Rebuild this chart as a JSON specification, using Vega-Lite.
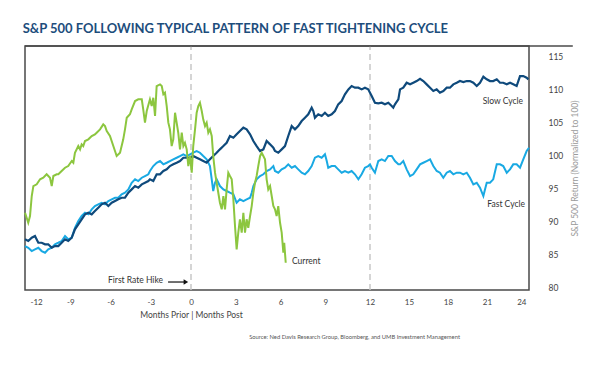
{
  "$schema": "https://vega.github.io/schema/vega-lite/v6.json",
  "width": 504,
  "height": 244,
  "autosize": "none",
  "padding": {"left": 25, "top": 46, "right": 71, "bottom": 77},
  "background": "white",
  "config": {
    "view": {"stroke": "#4a4a4a", "strokeWidth": 1.5},
    "font": "Lato",
    "axisY": {"labelOverlap": false, "tickCount": 8}
  },
  "title": {
    "text": "S&P 500 FOLLOWING TYPICAL PATTERN OF FAST TIGHTENING CYCLE",
    "anchor": "start",
    "font": "Lato",
    "fontSize": 13,
    "fontWeight": "bold",
    "color": "#1d4d7c",
    "offset": 9,
    "dx": 2
  },
  "datasets": {
    "slow": [
      {"m":-12.37,"v":87.23},{"m":-12.13,"v":86.97},{"m":-11.87,"v":87.47},{"m":-11.63,"v":87.73},{"m":-11.38,"v":86.71},{"m":-11.13,"v":86.71},{"m":-10.88,"v":86.47},{"m":-10.64,"v":86.47},{"m":-10.38,"v":85.95},{"m":-10.14,"v":86.21},{"m":-9.89,"v":86.21},{"m":-9.64,"v":86.71},{"m":-9.39,"v":87.23},{"m":-9.15,"v":86.97},{"m":-8.89,"v":87.47},{"m":-8.65,"v":88.74},{"m":-8.40,"v":89.5},{"m":-8.15,"v":90.26},{"m":-7.90,"v":91.02},{"m":-7.65,"v":91.26},{"m":-7.40,"v":91.02},{"m":-7.16,"v":91.52},{"m":-6.91,"v":92.02},{"m":-6.66,"v":92.53},{"m":-6.41,"v":92.77},{"m":-6.16,"v":92.27},{"m":-5.91,"v":92.77},{"m":-5.66,"v":93.03},{"m":-5.42,"v":93.29},{"m":-5.17,"v":93.53},{"m":-4.92,"v":93.53},{"m":-4.67,"v":94.29},{"m":-4.42,"v":94.8},{"m":-4.17,"v":95.3},{"m":-3.93,"v":95.05},{"m":-3.67,"v":95.56},{"m":-3.43,"v":95.8},{"m":-3.18,"v":96.06},{"m":-3.06,"v":96.32},{"m":-2.81,"v":96.06},{"m":-2.56,"v":97.08},{"m":-2.31,"v":97.08},{"m":-2.06,"v":97.58},{"m":-1.81,"v":97.83},{"m":-1.57,"v":98.33},{"m":-1.32,"v":98.59},{"m":-1.07,"v":98.83},{"m":-0.82,"v":99.09},{"m":-0.57,"v":99.59},{"m":-0.32,"v":99.59},{"m":-0.07,"v":99.59},{"m":0.15,"v":99.85},{"m":0.38,"v":99.59},{"m":0.60,"v":99.35},{"m":0.82,"v":99.09},{"m":1.05,"v":98.83},{"m":1.27,"v":99.35},{"m":1.49,"v":99.85},{"m":1.72,"v":100.35},{"m":1.94,"v":100.86},{"m":2.17,"v":101.36},{"m":2.39,"v":101.86},{"m":2.61,"v":102.88},{"m":2.84,"v":102.62},{"m":3.06,"v":103.14},{"m":3.28,"v":103.64},{"m":3.51,"v":104.14},{"m":3.73,"v":103.89},{"m":3.96,"v":103.14},{"m":4.18,"v":102.12},{"m":4.40,"v":101.36},{"m":4.63,"v":100.61},{"m":4.85,"v":100.86},{"m":5.07,"v":102.12},{"m":5.30,"v":101.62},{"m":5.52,"v":101.11},{"m":5.63,"v":100.61},{"m":5.85,"v":100.35},{"m":6.08,"v":100.86},{"m":6.30,"v":101.36},{"m":6.52,"v":102.88},{"m":6.75,"v":104.39},{"m":6.97,"v":103.89},{"m":7.19,"v":104.39},{"m":7.42,"v":105.15},{"m":7.64,"v":105.65},{"m":7.86,"v":106.17},{"m":8.09,"v":107.17},{"m":8.20,"v":106.67},{"m":8.31,"v":105.65},{"m":8.53,"v":106.17},{"m":8.76,"v":105.91},{"m":8.98,"v":106.41},{"m":9.20,"v":105.91},{"m":9.43,"v":106.17},{"m":9.65,"v":106.67},{"m":9.87,"v":107.68},{"m":10.10,"v":108.18},{"m":10.32,"v":109.2},{"m":10.55,"v":109.95},{"m":10.77,"v":110.45},{"m":10.99,"v":110.2},{"m":11.22,"v":110.2},{"m":11.44,"v":109.95},{"m":11.66,"v":110.2},{"m":11.88,"v":109.95},{"m":12.13,"v":108.94},{"m":12.38,"v":107.92},{"m":12.64,"v":107.83},{"m":12.90,"v":107.92},{"m":13.15,"v":107.68},{"m":13.41,"v":107.92},{"m":13.67,"v":107.42},{"m":13.79,"v":107.17},{"m":13.92,"v":107.68},{"m":14.18,"v":108.44},{"m":14.31,"v":109.95},{"m":14.56,"v":110.2},{"m":14.82,"v":110.95},{"m":15.08,"v":110.71},{"m":15.33,"v":110.95},{"m":15.59,"v":111.21},{"m":15.85,"v":111.56},{"m":16.10,"v":111.21},{"m":16.36,"v":110.71},{"m":16.62,"v":110.2},{"m":16.87,"v":109.7},{"m":17.13,"v":109.95},{"m":17.38,"v":109.44},{"m":17.64,"v":109.7},{"m":17.90,"v":110.2},{"m":18.15,"v":110.2},{"m":18.41,"v":110.71},{"m":18.67,"v":110.95},{"m":18.92,"v":111.21},{"m":19.18,"v":111.06},{"m":19.44,"v":111.21},{"m":19.69,"v":111.21},{"m":19.95,"v":110.95},{"m":20.21,"v":110.45},{"m":20.46,"v":110.95},{"m":20.72,"v":111.86},{"m":20.98,"v":111.47},{"m":21.23,"v":111.21},{"m":21.48,"v":111.21},{"m":21.75,"v":111.47},{"m":22.00,"v":110.95},{"m":22.25,"v":110.95},{"m":22.52,"v":110.71},{"m":22.77,"v":110.95},{"m":23.02,"v":110.71},{"m":23.28,"v":110.45},{"m":23.54,"v":111.97},{"m":23.79,"v":111.97},{"m":24.05,"v":111.71},{"m":24.18,"v":111.47}
    ],
    "fast": [
      {"m":-12.37,"v":86.21},{"m":-12.13,"v":85.95},{"m":-11.87,"v":85.45},{"m":-11.63,"v":85.71},{"m":-11.38,"v":85.95},{"m":-11.13,"v":85.45},{"m":-10.88,"v":85.2},{"m":-10.64,"v":85.71},{"m":-10.38,"v":85.95},{"m":-10.14,"v":86.47},{"m":-9.89,"v":86.71},{"m":-9.64,"v":86.97},{"m":-9.39,"v":87.73},{"m":-9.15,"v":87.23},{"m":-8.89,"v":87.47},{"m":-8.65,"v":88.98},{"m":-8.40,"v":90.0},{"m":-8.15,"v":90.76},{"m":-7.90,"v":91.26},{"m":-7.65,"v":91.02},{"m":-7.40,"v":91.77},{"m":-7.16,"v":92.27},{"m":-6.91,"v":92.53},{"m":-6.66,"v":92.77},{"m":-6.41,"v":92.53},{"m":-6.16,"v":93.03},{"m":-5.91,"v":93.29},{"m":-5.66,"v":93.53},{"m":-5.42,"v":93.53},{"m":-5.17,"v":94.05},{"m":-4.92,"v":94.29},{"m":-4.67,"v":94.8},{"m":-4.42,"v":95.8},{"m":-4.17,"v":96.32},{"m":-3.93,"v":96.06},{"m":-3.67,"v":96.56},{"m":-3.43,"v":96.82},{"m":-3.18,"v":97.08},{"m":-3.06,"v":97.58},{"m":-2.81,"v":98.33},{"m":-2.56,"v":98.83},{"m":-2.31,"v":99.09},{"m":-2.06,"v":98.59},{"m":-1.81,"v":98.83},{"m":-1.57,"v":99.09},{"m":-1.32,"v":99.35},{"m":-1.07,"v":99.59},{"m":-0.82,"v":99.85},{"m":-0.57,"v":100.11},{"m":-0.32,"v":99.85},{"m":-0.07,"v":100.11},{"m":0.15,"v":100.35},{"m":0.38,"v":100.61},{"m":0.60,"v":100.35},{"m":0.82,"v":99.85},{"m":1.05,"v":99.35},{"m":1.27,"v":98.33},{"m":1.39,"v":96.32},{"m":1.49,"v":94.55},{"m":1.61,"v":95.8},{"m":1.72,"v":96.32},{"m":1.94,"v":95.3},{"m":2.17,"v":94.8},{"m":2.39,"v":94.55},{"m":2.61,"v":94.29},{"m":2.84,"v":94.05},{"m":3.06,"v":92.77},{"m":3.28,"v":93.29},{"m":3.51,"v":93.03},{"m":3.73,"v":93.29},{"m":3.96,"v":93.53},{"m":4.07,"v":94.29},{"m":4.18,"v":95.3},{"m":4.40,"v":96.32},{"m":4.63,"v":96.82},{"m":4.85,"v":97.08},{"m":5.07,"v":97.58},{"m":5.30,"v":97.83},{"m":5.52,"v":98.33},{"m":5.63,"v":97.58},{"m":5.85,"v":97.32},{"m":6.08,"v":97.83},{"m":6.30,"v":98.08},{"m":6.52,"v":98.59},{"m":6.75,"v":98.08},{"m":6.97,"v":98.33},{"m":7.19,"v":97.83},{"m":7.42,"v":97.32},{"m":7.64,"v":97.08},{"m":7.86,"v":97.58},{"m":8.09,"v":98.33},{"m":8.31,"v":99.59},{"m":8.53,"v":99.85},{"m":8.76,"v":99.59},{"m":8.98,"v":100.11},{"m":9.10,"v":99.09},{"m":9.20,"v":98.08},{"m":9.43,"v":98.33},{"m":9.65,"v":98.33},{"m":9.87,"v":97.83},{"m":10.10,"v":97.32},{"m":10.32,"v":97.58},{"m":10.55,"v":97.32},{"m":10.77,"v":97.58},{"m":10.99,"v":97.08},{"m":11.22,"v":96.32},{"m":11.44,"v":97.08},{"m":11.66,"v":98.08},{"m":11.88,"v":98.33},{"m":12.00,"v":98.59},{"m":12.13,"v":98.08},{"m":12.38,"v":97.32},{"m":12.64,"v":99.09},{"m":12.90,"v":99.35},{"m":13.15,"v":99.09},{"m":13.41,"v":99.85},{"m":13.67,"v":99.85},{"m":13.92,"v":99.09},{"m":14.18,"v":98.59},{"m":14.31,"v":98.59},{"m":14.56,"v":99.09},{"m":14.82,"v":97.83},{"m":15.08,"v":96.82},{"m":15.33,"v":97.08},{"m":15.59,"v":97.83},{"m":15.85,"v":98.59},{"m":16.10,"v":98.83},{"m":16.36,"v":99.09},{"m":16.62,"v":99.35},{"m":16.87,"v":98.33},{"m":17.13,"v":97.58},{"m":17.38,"v":97.32},{"m":17.64,"v":96.56},{"m":17.90,"v":97.32},{"m":18.15,"v":97.58},{"m":18.41,"v":97.08},{"m":18.67,"v":97.32},{"m":18.92,"v":97.32},{"m":19.18,"v":97.08},{"m":19.44,"v":97.32},{"m":19.69,"v":96.56},{"m":19.95,"v":95.56},{"m":20.21,"v":95.8},{"m":20.46,"v":95.05},{"m":20.72,"v":93.79},{"m":20.85,"v":94.8},{"m":20.98,"v":95.8},{"m":21.23,"v":95.8},{"m":21.48,"v":96.32},{"m":21.75,"v":98.59},{"m":22.00,"v":98.59},{"m":22.25,"v":98.33},{"m":22.52,"v":97.32},{"m":22.77,"v":97.83},{"m":23.02,"v":98.59},{"m":23.28,"v":98.59},{"m":23.54,"v":98.08},{"m":23.79,"v":99.35},{"m":24.05,"v":100.61},{"m":24.23,"v":101.11}
    ],
    "cur": [
      {"m":-12.37,"v":91.26},{"m":-12.13,"v":89.74},{"m":-12.00,"v":90.76},{"m":-11.87,"v":93.79},{"m":-11.75,"v":95.3},{"m":-11.50,"v":95.56},{"m":-11.25,"v":96.32},{"m":-11.01,"v":96.56},{"m":-10.76,"v":97.08},{"m":-10.51,"v":96.56},{"m":-10.38,"v":95.3},{"m":-10.26,"v":96.82},{"m":-10.01,"v":97.08},{"m":-9.89,"v":97.08},{"m":-9.64,"v":97.58},{"m":-9.39,"v":98.08},{"m":-9.15,"v":98.33},{"m":-8.89,"v":99.09},{"m":-8.77,"v":98.83},{"m":-8.65,"v":100.35},{"m":-8.40,"v":101.36},{"m":-8.27,"v":100.86},{"m":-8.15,"v":101.62},{"m":-8.03,"v":101.36},{"m":-7.90,"v":102.12},{"m":-7.65,"v":102.38},{"m":-7.40,"v":102.88},{"m":-7.16,"v":103.14},{"m":-7.03,"v":103.38},{"m":-6.78,"v":103.89},{"m":-6.54,"v":104.65},{"m":-6.41,"v":104.39},{"m":-6.28,"v":103.64},{"m":-6.04,"v":102.88},{"m":-5.79,"v":101.36},{"m":-5.54,"v":99.85},{"m":-5.29,"v":100.35},{"m":-5.05,"v":102.38},{"m":-4.92,"v":103.89},{"m":-4.79,"v":105.65},{"m":-4.55,"v":106.17},{"m":-4.42,"v":106.92},{"m":-4.17,"v":108.18},{"m":-3.93,"v":108.44},{"m":-3.67,"v":108.44},{"m":-3.56,"v":106.92},{"m":-3.43,"v":104.9},{"m":-3.30,"v":106.67},{"m":-3.06,"v":108.44},{"m":-2.93,"v":107.42},{"m":-2.81,"v":108.68},{"m":-2.68,"v":105.91},{"m":-2.56,"v":110.45},{"m":-2.31,"v":110.71},{"m":-2.18,"v":110.45},{"m":-2.06,"v":109.2},{"m":-1.94,"v":109.44},{"m":-1.81,"v":107.42},{"m":-1.69,"v":104.9},{"m":-1.57,"v":103.89},{"m":-1.44,"v":101.36},{"m":-1.32,"v":102.38},{"m":-1.19,"v":106.41},{"m":-1.07,"v":104.9},{"m":-0.95,"v":103.38},{"m":-0.82,"v":100.86},{"m":-0.69,"v":103.38},{"m":-0.57,"v":101.36},{"m":-0.45,"v":101.86},{"m":-0.32,"v":100.86},{"m":-0.20,"v":98.33},{"m":-0.07,"v":99.85},{"m":0.05,"v":97.32},{"m":0.15,"v":101.36},{"m":0.27,"v":103.89},{"m":0.38,"v":106.41},{"m":0.49,"v":107.42},{"m":0.60,"v":107.92},{"m":0.72,"v":106.67},{"m":0.82,"v":105.41},{"m":0.94,"v":104.39},{"m":1.05,"v":104.9},{"m":1.16,"v":103.38},{"m":1.27,"v":103.89},{"m":1.39,"v":102.88},{"m":1.49,"v":99.85},{"m":1.61,"v":97.32},{"m":1.72,"v":95.8},{"m":1.83,"v":94.29},{"m":1.94,"v":92.77},{"m":2.06,"v":91.77},{"m":2.17,"v":93.79},{"m":2.28,"v":91.77},{"m":2.39,"v":94.8},{"m":2.50,"v":97.32},{"m":2.61,"v":96.82},{"m":2.73,"v":96.32},{"m":2.84,"v":93.29},{"m":2.95,"v":89.24},{"m":3.06,"v":85.71},{"m":3.17,"v":88.23},{"m":3.28,"v":90.26},{"m":3.40,"v":88.23},{"m":3.51,"v":91.26},{"m":3.62,"v":88.23},{"m":3.73,"v":90.26},{"m":3.84,"v":88.98},{"m":3.96,"v":90.76},{"m":4.07,"v":92.27},{"m":4.18,"v":94.29},{"m":4.29,"v":95.8},{"m":4.40,"v":96.82},{"m":4.51,"v":98.33},{"m":4.63,"v":99.85},{"m":4.74,"v":100.35},{"m":4.85,"v":99.85},{"m":4.96,"v":99.35},{"m":5.07,"v":96.32},{"m":5.18,"v":94.8},{"m":5.30,"v":95.3},{"m":5.41,"v":93.79},{"m":5.52,"v":92.27},{"m":5.63,"v":91.77},{"m":5.74,"v":90.76},{"m":5.85,"v":92.27},{"m":5.97,"v":89.74},{"m":6.08,"v":88.23},{"m":6.19,"v":85.2},{"m":6.25,"v":86.71},{"m":6.35,"v":83.68}
    ],
    "hikes": [{"m": 0}, {"m": 12}],
    "labels": [
      {"m": 23.77, "v": 108.2, "label": "Slow Cycle", "side": "right"},
      {"m": 23.92, "v": 92.58, "label": "Fast Cycle", "side": "right"},
      {"m": 6.77, "v": 83.94, "label": "Current", "side": "left"},
      {"m": -2.09, "v": 81.06, "label": "First Rate Hike", "side": "right"}
    ],
    "one": [{"a": 1}]
  },
  "layer": [
    {
      "data": {"name": "hikes"},
      "mark": {"type": "rule", "color": "#c8c8c8", "strokeWidth": 1.5, "strokeDash": [6, 4]},
      "encoding": {
        "x": {
          "field": "m",
          "type": "quantitative",
          "scale": {"domain": [-12, 0, 12, 24], "range": [5, 166, 345, 501], "nice": false, "zero": false},
          "axis": {
            "values": [-12, -9, -6, -3, 0, 3, 6, 9, 12, 15, 18, 21, 24],
            "labelExpr": "'' + datum.value",
            "labelOverlap": false,
            "domain": false,
            "ticks": false,
            "tickSize": 0,
            "grid": false,
            "labelPadding": 8,
            "labelFont": "Lato",
            "labelFontSize": 8,
            "labelColor": "#444444",
            "title": "Months Prior | Months Post",
            "titleFont": "Lato",
            "titleFontSize": 8.5,
            "titleFontWeight": "normal",
            "titleColor": "#444444",
            "titleX": 166,
            "titleAlign": "center",
            "titlePadding": 4
          }
        },
        "y": {
          "datum": 79.55,
          "type": "quantitative",
          "scale": {"domain": [79.55, 116.52], "nice": false, "zero": false},
          "axis": {
            "orient": "right",
            "values": [80, 85, 90, 95, 100, 105, 110, 115],
            "tickCount": 8,
            "labelOverlap": false,
            "domain": false,
            "ticks": false,
            "tickSize": 0,
            "grid": false,
            "labelPadding": 19,
            "labelFont": "Lato",
            "labelFontSize": 8.5,
            "labelColor": "#444444",
            "title": "S&P 500 Return (Normalized to 100)",
            "titleAngle": 270,
            "titleFont": "Lato",
            "titleFontSize": 8.5,
            "titleFontWeight": "normal",
            "titleColor": "#9a9a9a",
            "titlePadding": 17
          }
        },
        "y2": {"datum": 116.52}
      }
    },
    {
      "data": {"name": "fast"},
      "mark": {"type": "line", "color": "#19a9e3", "strokeWidth": 2},
      "encoding": {"x": {"field": "m", "type": "quantitative"}, "y": {"field": "v", "type": "quantitative"}}
    },
    {
      "data": {"name": "slow"},
      "mark": {"type": "line", "color": "#0f4a7c", "strokeWidth": 2.2},
      "encoding": {"x": {"field": "m", "type": "quantitative"}, "y": {"field": "v", "type": "quantitative"}}
    },
    {
      "data": {"name": "cur"},
      "mark": {"type": "line", "color": "#8cc63f", "strokeWidth": 2},
      "encoding": {"x": {"field": "m", "type": "quantitative"}, "y": {"field": "v", "type": "quantitative"}}
    },
    {
      "data": {"name": "one"},
      "mark": {"type": "rule", "color": "#4a4a4a", "strokeWidth": 1.5, "clip": false},
      "encoding": {"x": {"datum": -12.37}, "x2": {"datum": 27.6}, "y": {"datum": 116.52}}
    },
    {
      "data": {"name": "labels"},
      "transform": [{"filter": "datum.side == 'right'"}],
      "mark": {"type": "text", "align": "right", "baseline": "middle", "font": "Lato", "fontSize": 8.5, "color": "#333333"},
      "encoding": {"x": {"field": "m", "type": "quantitative"}, "y": {"field": "v", "type": "quantitative"}, "text": {"field": "label"}}
    },
    {
      "data": {"name": "labels"},
      "transform": [{"filter": "datum.side == 'left'"}],
      "mark": {"type": "text", "align": "left", "baseline": "middle", "font": "Lato", "fontSize": 8.5, "color": "#333333"},
      "encoding": {"x": {"field": "m", "type": "quantitative"}, "y": {"field": "v", "type": "quantitative"}, "text": {"field": "label"}}
    },
    {
      "data": {"name": "one"},
      "mark": {"type": "rule", "color": "#111111", "strokeWidth": 1.2},
      "encoding": {"x": {"datum": -1.71}, "x2": {"datum": -0.45}, "y": {"datum": 80.76}}
    },
    {
      "data": {"name": "one"},
      "mark": {"type": "point", "shape": "triangle-right", "filled": true, "color": "#111111", "size": 28, "opacity": 1},
      "encoding": {"x": {"datum": -0.38}, "y": {"datum": 80.76}}
    },
    {
      "data": {"name": "one"},
      "mark": {"type": "text", "text": "Source: Ned Davis Research Group, Bloomberg, and UMB Investment Management", "align": "right", "baseline": "middle", "font": "Lato", "fontSize": 5.8, "color": "#555555", "clip": false},
      "encoding": {"x": {"datum": 18.92}, "y": {"datum": 72.42}}
    }
  ]
}
